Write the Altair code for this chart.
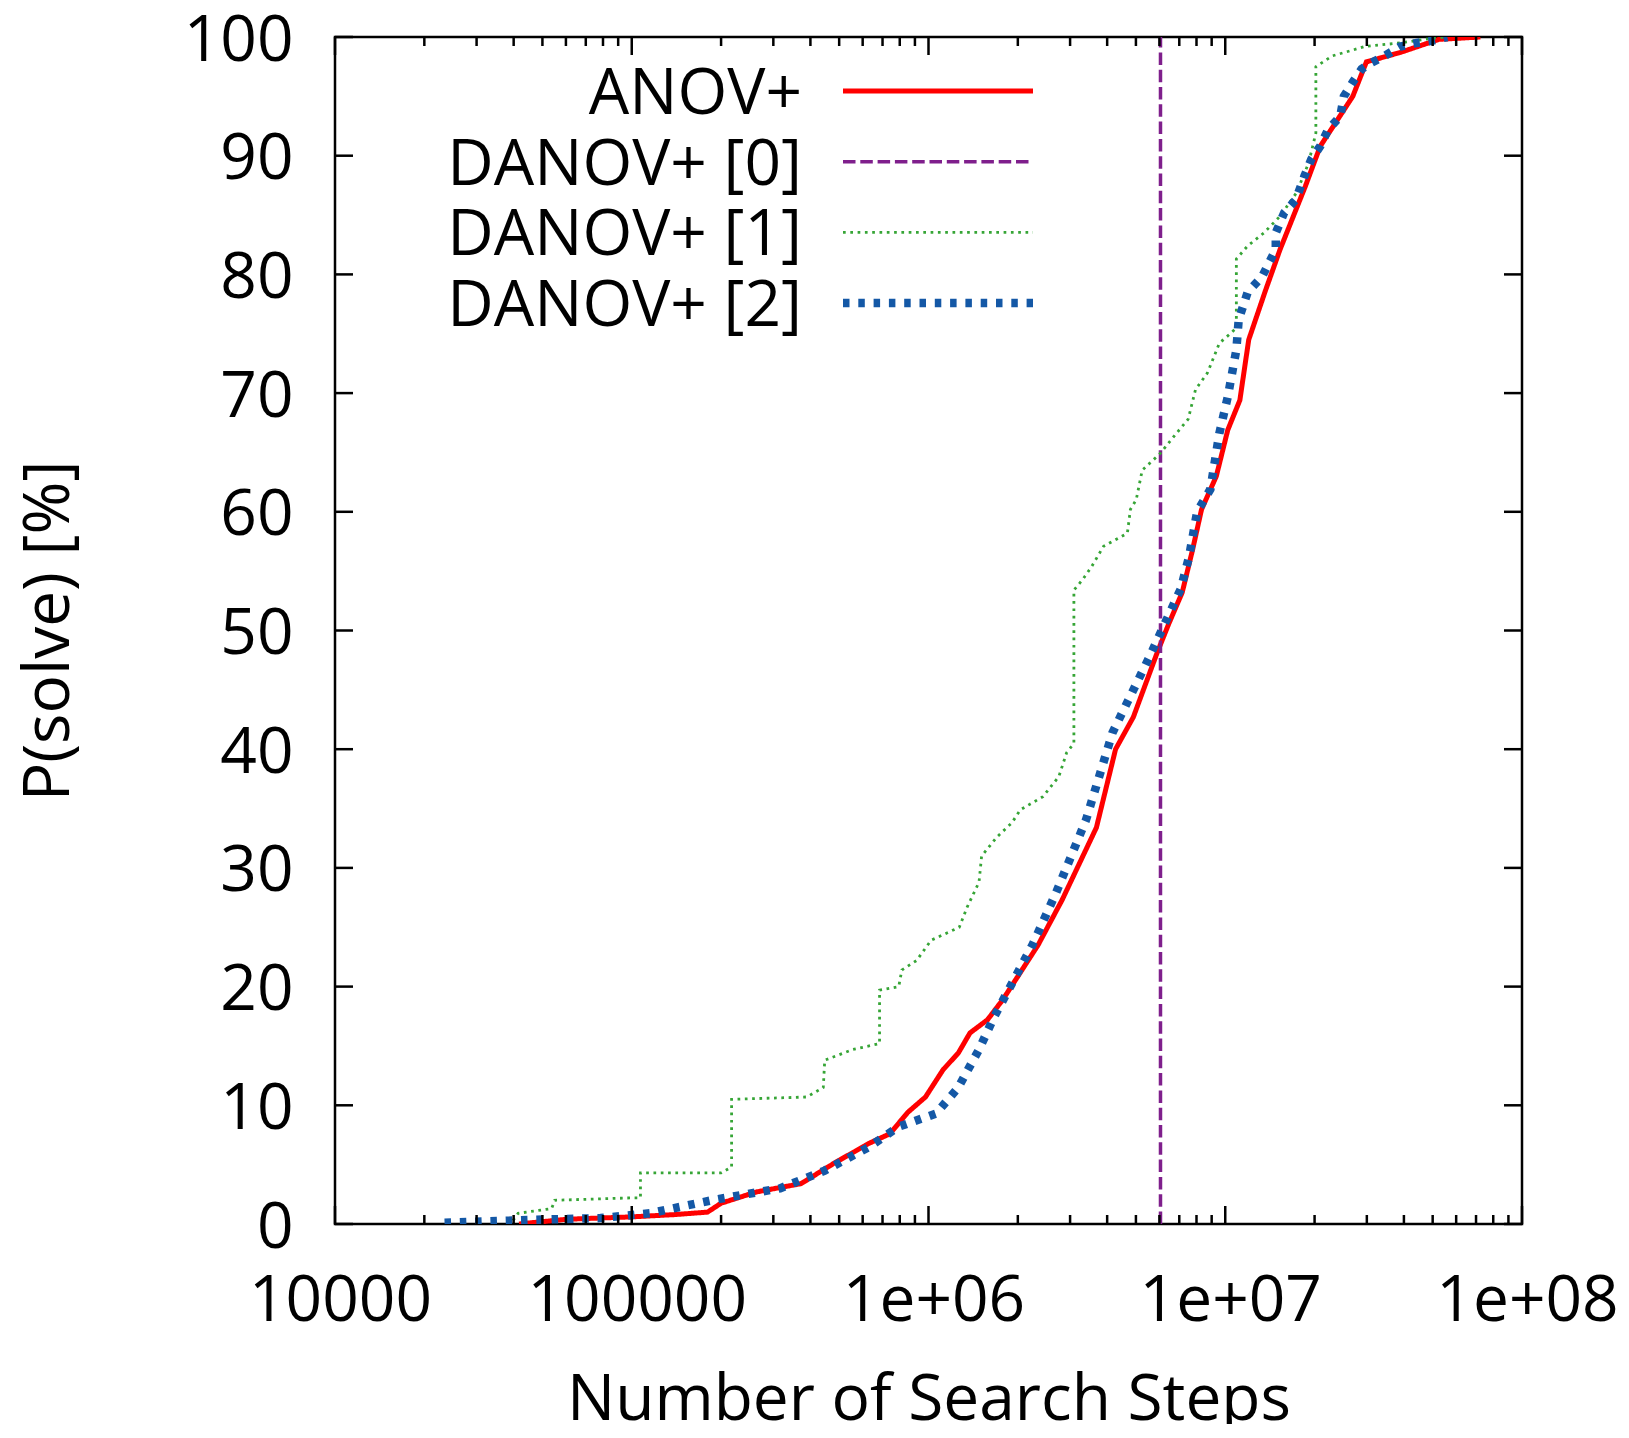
import altair as alt
import pandas as pd

W = 1187
H = 1187
FONT = "Open Sans"
FS = 64

series_names = ["ANOV+", "DANOV+ [0]", "DANOV+ [1]", "DANOV+ [2]"]
series_colors = ["#ff0000", "#7f1f8c", "#36a536", "#1458a6"]
series_dash = [[1, 0], [12.5, 4.8], [2.7, 4.6], [6.5, 8.8]]
series_width = [5, 3.5, 2.8, 8.5]

anov_x = [41700, 60300, 100000, 141000, 180000, 200000, 263000, 372000, 479000, 631000,
          741000, 851000, 977000, 1.12e6, 1.26e6, 1.38e6, 1.58e6, 1.78e6, 2.34e6, 2.82e6,
          3.68e6, 4.27e6, 4.9e6, 5.89e6, 6.46e6, 7.16e6, 7.76e6, 8.32e6, 9.33e6, 1.02e7,
          1.12e7, 1.16e7, 1.20e7, 1.36e7, 1.53e7, 1.86e7, 2.09e7, 2.69e7, 2.99e7, 3.89e7,
          5.25e7, 7.24e7]
anov_y = [0.0, 0.4, 0.6, 0.8, 1.0, 1.75, 2.7, 3.4, 5.1, 6.8,
          7.6, 9.4, 10.7, 13.0, 14.4, 16.1, 17.2, 18.9, 23.5, 27.3,
          33.4, 40.0, 42.7, 48.1, 50.6, 53.2, 56.8, 60.2, 63.0, 66.9,
          69.4, 72.0, 74.5, 78.5, 82.1, 87.4, 90.8, 95.0, 97.9, 98.7,
          99.8, 100.0]

d0_x = [6.05e6, 6.05e6]
d0_y = [0.0, 100.0]

d1_x = [39800, 41400, 53700, 55000, 100000, 107000, 107000, 200000, 217000, 217000,
        389000, 442000, 447000, 556000, 684000, 684000, 794000, 813000, 912000, 1.02e6,
        1.27e6, 1.35e6, 1.48e6, 1.51e6, 1.70e6, 1.91e6, 2.04e6, 2.43e6, 2.75e6, 2.92e6,
        3.09e6, 3.09e6, 3.31e6, 3.55e6, 3.89e6, 4.68e6, 4.79e6, 5.01e6, 5.25e6, 6.03e6,
        6.84e6, 7.5e6, 7.94e6, 8.71e6, 9.55e6, 1.05e7, 1.09e7, 1.09e7, 1.19e7, 1.35e7,
        1.53e7, 1.74e7, 1.91e7, 2.02e7, 2.02e7, 2.29e7, 2.69e7, 2.95e7, 3.89e7, 4.68e7, 5.6e7]
d1_y = [0.3, 0.9, 1.3, 2.0, 2.2, 2.2, 4.3, 4.3, 4.8, 10.5,
        10.7, 11.5, 13.8, 14.7, 15.2, 19.7, 20.0, 21.4, 22.2, 23.9,
        25.0, 26.7, 28.8, 31.0, 32.6, 33.8, 34.9, 36.0, 37.7, 39.7,
        40.5, 53.4, 54.3, 55.4, 57.1, 58.2, 60.2, 61.0, 63.5, 64.9,
        66.6, 67.8, 70.3, 71.7, 74.2, 75.1, 75.5, 81.3, 82.4, 83.5,
        84.9, 86.9, 89.4, 91.9, 97.5, 98.4, 98.9, 99.2, 99.5, 99.8, 100.0]

d2_x = [23400, 46800, 78500, 115000, 186000, 316000, 447000, 631000, 794000, 1.06e6,
        1.26e6, 1.48e6, 1.66e6, 2.24e6, 2.69e6, 3.39e6, 4.17e6, 5.56e6, 7.08e6, 7.55e6,
        8.04e6, 8.91e6, 9.55e6, 1.02e7, 1.09e7, 1.11e7, 1.19e7, 1.33e7, 1.48e7, 1.48e7,
        1.58e7, 1.73e7, 1.85e7, 1.95e7, 2.09e7, 2.22e7, 2.44e7, 2.51e7, 2.69e7, 2.88e7,
        3.09e7, 3.44e7, 3.89e7, 4.42e7, 4.9e7, 5.6e7]
d2_y = [0.1, 0.35, 0.5, 0.9, 2.0, 3.0, 4.5, 6.5, 8.2, 9.3,
        11.5, 14.7, 17.4, 23.5, 27.9, 34.0, 41.4, 47.8, 53.5, 56.2,
        60.0, 61.9, 66.6, 69.7, 73.65, 76.2, 78.5, 79.8, 82.1, 83.5,
        85.2, 86.3, 88.3, 89.7, 90.8, 92.2, 93.3, 95.0, 96.2, 97.3,
        97.8, 98.4, 99.2, 99.5, 99.65, 100.0]

x_major = [1e4, 1e5, 1e6, 1e7, 1e8]
x_major_labels = ["10000", "100000", "1e+06", "1e+07", "1e+08"]
minor_mult = [2, 3, 4, 5, 6, 7, 8, 9]
x_minor = [m * d for d in [1e4, 1e5, 1e6, 1e7] for m in minor_mult]
y_ticks = [0, 10, 20, 30, 40, 50, 60, 70, 80, 90, 100]

series_x = [anov_x, d0_x, d1_x, d2_x]
series_y = [anov_y, d0_y, d1_y, d2_y]

rows = []
for name, xs, ys in zip(series_names, series_x, series_y):
    for i, (xv, yv) in enumerate(zip(xs, ys)):
        rows.append({"series": name, "x": xv, "y": yv, "order": i})
df = pd.DataFrame(rows)

xscale = alt.Scale(type="log", domain=[1e4, 1e8])
yscale = alt.Scale(domain=[0, 100])

label_expr = " : ".join(
    f"datum.value == {v:g} ? '{l}'" for v, l in zip(x_major, x_major_labels)
) + " : ''"

x_axis = alt.Axis(
    values=x_major, labelExpr=label_expr, ticks=False, tickSize=0, domain=False, grid=False,
    labelFont=FONT, labelFontSize=FS, labelColor="black", labelPadding=96, labelLimit=600,
    labelBaseline="alphabetic", labelOffset=5, labelFlush=False, labelOverlap=False,
    title="Number of Search Steps", titleFont=FONT, titleFontSize=FS, titleFontWeight="normal",
    titleColor="black", titleBaseline="alphabetic", titleY=195, titleX=W / 2, titleLimit=1200,
)
y_axis = alt.Axis(
    values=y_ticks, ticks=False, tickSize=0, domain=False, grid=False,
    labelFont=FONT, labelFontSize=FS, labelColor="black", labelPadding=42, labelLimit=600,
    labelBaseline="alphabetic", labelOffset=23, labelFlush=False, labelOverlap=False,
    title="P(solve) [%]", titleFont=FONT, titleFontSize=FS, titleFontWeight="normal",
    titleColor="black", titleBaseline="alphabetic", titleAngle=270, titleX=-267, titleY=H / 2,
    titleLimit=1200,
)

layers = []
for name, col, dash, sw in zip(series_names, series_colors, series_dash, series_width):
    layers.append(
        alt.Chart(df).transform_filter(alt.datum.series == name)
        .mark_line(color=col, strokeDash=dash, strokeWidth=sw, strokeCap="butt", clip=True)
        .encode(
            x=alt.X("x:Q", scale=xscale, axis=x_axis),
            y=alt.Y("y:Q", scale=yscale, axis=y_axis),
            order="order:Q",
        )
    )

TICK = dict(color="black", strokeWidth=2.5)
xmaj_df = pd.DataFrame({"x": x_major})
xmin_df = pd.DataFrame({"x": x_minor})
y_df = pd.DataFrame({"y": y_ticks})

for dfx, ln in [(xmaj_df, 18), (xmin_df, 9)]:
    layers.append(alt.Chart(dfx).mark_rule(**TICK).encode(
        x=alt.X("x:Q", scale=xscale, axis=x_axis), y=alt.value(H), y2=alt.value(H - ln)))
    layers.append(alt.Chart(dfx).mark_rule(**TICK).encode(
        x=alt.X("x:Q", scale=xscale, axis=x_axis), y=alt.value(0), y2=alt.value(ln)))
layers.append(alt.Chart(y_df).mark_rule(**TICK).encode(
    y=alt.Y("y:Q", scale=yscale, axis=y_axis), x=alt.value(0), x2=alt.value(18)))
layers.append(alt.Chart(y_df).mark_rule(**TICK).encode(
    y=alt.Y("y:Q", scale=yscale, axis=y_axis), x=alt.value(W), x2=alt.value(W - 18)))

main = alt.layer(*layers)

legend_df = pd.DataFrame({"label": series_names})
leg_scale = alt.Scale(type="point", domain=series_names, range=[54, 266], padding=0)
leg_layers = []
for name, col, dash, sw in zip(series_names, series_colors, series_dash, series_width):
    leg_layers.append(
        alt.Chart(legend_df).transform_filter(alt.datum.label == name)
        .mark_rule(color=col, strokeDash=dash, strokeWidth=sw, strokeCap="butt")
        .encode(y=alt.Y("label:N", scale=leg_scale, axis=None),
                x=alt.value(508), x2=alt.value(698))
    )
leg_layers.append(
    alt.Chart(legend_df).mark_text(align="right", baseline="alphabetic", dy=23,
                                   font=FONT, fontSize=FS, color="black")
    .encode(y=alt.Y("label:N", scale=leg_scale, axis=None), x=alt.value(800 - 335 + 2),
            text="label:N")
)
legend = alt.layer(*leg_layers)

chart = (
    alt.layer(main, legend)
    .resolve_scale(y="independent")
    .properties(
        width=W, height=H,
        autosize=alt.AutoSizeParams(type="none"),
        padding={"left": 327, "top": 29, "right": 98, "bottom": 200},
        background="white",
    )
    .configure_view(stroke="black", strokeWidth=2.5)
)

chart.save("out.html", embed_options={"renderer": "svg", "actions": False})
